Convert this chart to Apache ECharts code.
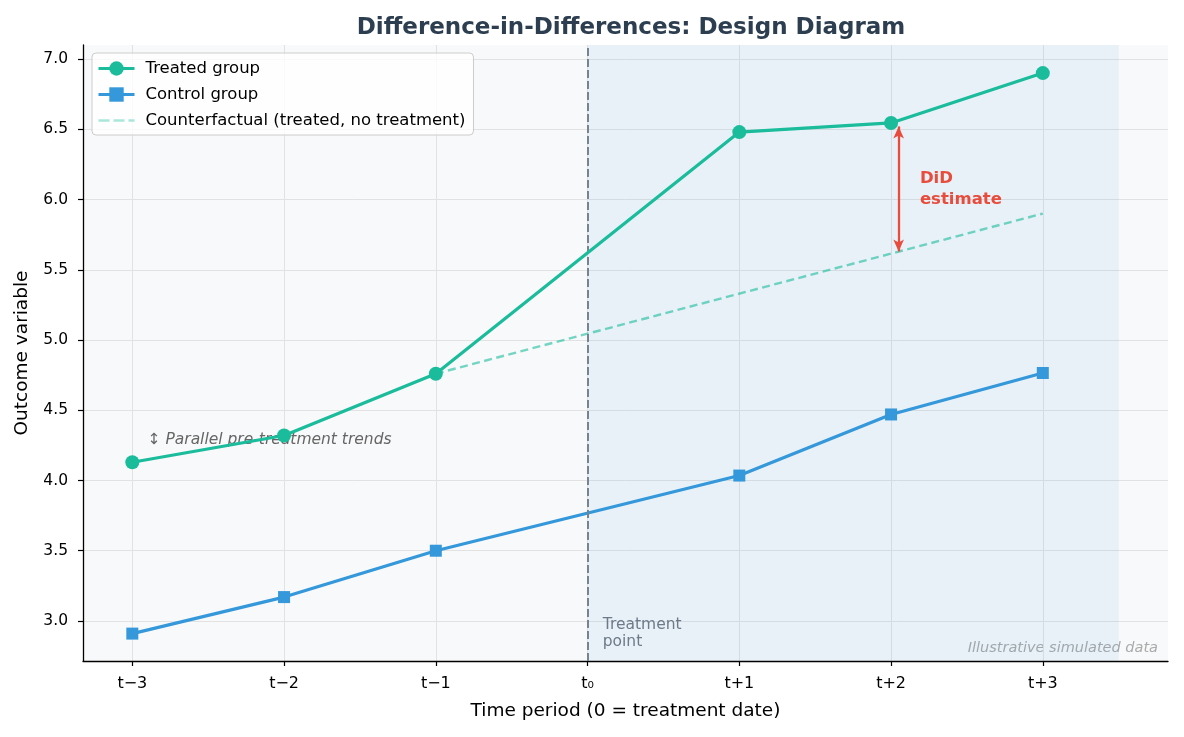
<!DOCTYPE html>
<html><head><meta charset="utf-8">
<script src="https://cdn.jsdelivr.net/npm/echarts@6/dist/echarts.min.js"></script>
<style>html,body{margin:0;padding:0;background:#fff}#c{width:1184px;height:737px}</style>
</head><body><div id="c"></div>
<script>
const periods = [-3, -2, -1, 1, 2, 3];
const tickValues = [-3, -2, -1, 0, 1, 2, 3];
const tickLabels = ['t\u22123', 't\u22122', 't\u22121', 't\u2080', 't+1', 't+2', 't+3'];
const yTicks = [3.0, 3.5, 4.0, 4.5, 5.0, 5.5, 6.0, 6.5, 7.0];
const treated = [4.13, 4.32, 4.76, 6.48, 6.545, 6.90];
const control = [2.91, 3.17, 3.50, 4.035, 4.47, 4.765];
const cfPeriods = [-1, 3];
const counterfactual = [4.76, 5.90];
const didX = 2.05, didLow = 5.63, didHigh = 6.52;
const postStart = 0, postEnd = 3.5;

const font = 'DejaVu Sans';
const chart = echarts.init(document.getElementById('c'), null, {renderer: 'canvas'});
const pair = (xs, ys) => xs.map((x, i) => [x, ys[i]]);
const dashIcon = 'path://M0,0h11v2.6h-11Z M15,0h11v2.6h-11Z M30,0h6v2.6h-6Z';

chart.setOption({
  animation: false,
  textStyle: {fontFamily: font},
  title: {
    text: 'Difference-in-Differences: Design Diagram',
    left: 626, top: 12, textAlign: 'center',
    textStyle: {fontFamily: font, fontSize: 23, fontWeight: 'bold', color: '#2c3e50'}
  },
  grid: {left: 83, right: 16, top: 45, bottom: 76, show: true, backgroundColor: '#f8f9fa', borderWidth: 0},
  legend: {
    left: 92, top: 53, orient: 'vertical', itemGap: 9, itemWidth: 36, itemHeight: 18,
    padding: [7, 8, 6, 5],
    backgroundColor: 'rgba(255,255,255,0.8)', borderColor: '#cccccc', borderWidth: 1, borderRadius: 4,
    lineStyle: {width: 3},
    textStyle: {fontFamily: font, fontSize: 16.5, color: '#000', padding: [0, 0, 0, 6]},
    data: [
      {name: 'Treated group'},
      {name: 'Control group'},
      {name: 'Counterfactual (treated, no treatment)', icon: dashIcon, itemStyle: {color: 'rgba(26,188,156,0.6)'}, lineStyle: {width: 0}}
    ]
  },
  xAxis: {
    type: 'value', min: -3.325, max: 3.825,
    name: 'Time period (0 = treatment date)', nameLocation: 'middle', nameGap: 41,
    nameTextStyle: {fontFamily: font, fontSize: 18.5, color: '#000'},
    axisLine: {show: true, onZero: false, lineStyle: {color: '#000', width: 1.3}},
    axisTick: {show: true, length: 5, customValues: tickValues, lineStyle: {color: '#000', width: 1.2}},
    axisLabel: {customValues: tickValues, fontFamily: font, fontSize: 16, color: '#000', margin: 15,
      formatter: v => tickLabels[tickValues.indexOf(Math.round(v))] || ''},
    splitLine: {show: true, lineStyle: {color: '#e2e2e2', width: 1}}
  },
  yAxis: {
    type: 'value', min: 2.715, max: 7.1,
    name: 'Outcome variable', nameLocation: 'middle', nameGap: 51,
    nameTextStyle: {fontFamily: font, fontSize: 18.5, color: '#000'},
    axisLine: {show: true, onZero: false, lineStyle: {color: '#000', width: 1.3}},
    axisTick: {show: true, length: 5, customValues: yTicks, lineStyle: {color: '#000', width: 1.2}},
    axisLabel: {customValues: yTicks, fontFamily: font, fontSize: 15.5, color: '#000', margin: 15,
      formatter: v => v.toFixed(1)},
    splitLine: {show: true, lineStyle: {color: '#e2e2e2', width: 1}}
  },
  series: [
    {
      name: 'Counterfactual (treated, no treatment)', type: 'line', data: pair(cfPeriods, counterfactual),
      showSymbol: false, symbol: 'none', z: 3,
      lineStyle: {color: '#1abc9c', width: 2.4, type: [8, 4.5], opacity: 0.6},
      itemStyle: {color: '#1abc9c', opacity: 0.6},
      markArea: {silent: true, itemStyle: {color: 'rgba(52,152,219,0.08)'},
        data: [[{xAxis: postStart}, {xAxis: postEnd}]]},
      markLine: {silent: true, symbol: 'none', label: {show: false},
        lineStyle: {color: '#77838f', width: 2, type: [8, 3]},
        data: [{xAxis: postStart}]},
      markPoint: {silent: true, symbol: 'circle', symbolSize: 0,
        data: [
          {coord: [-2.9, 4.285], label: {show: true, position: 'right', distance: 0, formatter: '\u2195 Parallel pre-treatment trends',
            fontFamily: font, fontSize: 15.5, fontStyle: 'italic', color: '#666666'}},
          {coord: [0.067, 2.755], label: {show: true, position: 'insideBottomLeft', align: 'left', verticalAlign: 'bottom', formatter: 'Treatment\npoint',
            fontFamily: font, fontSize: 15.5, color: '#6c7a89', lineHeight: 17}},
          {coord: [2.19, 6.075], label: {show: true, position: 'right', distance: 0, formatter: 'DiD\nestimate',
            fontFamily: font, fontSize: 16.5, fontWeight: 'bold', color: '#e74c3c', lineHeight: 21}}
        ]}
    },
    {
      name: 'Control group', type: 'line', data: pair(periods, control), z: 4,
      symbol: 'rect', symbolSize: 12,
      lineStyle: {color: '#3498db', width: 3.2}, itemStyle: {color: '#3498db'}
    },
    {
      name: 'Treated group', type: 'line', data: pair(periods, treated), z: 5,
      symbol: 'circle', symbolSize: 14,
      lineStyle: {color: '#1abc9c', width: 3.2}, itemStyle: {color: '#1abc9c'},
      markLine: {silent: true, symbol: ['arrow', 'arrow'], symbolSize: [8, 12], label: {show: false},
        lineStyle: {color: '#e74c3c', width: 2.3, type: 'solid'},
        data: [[{coord: [didX, didLow]}, {coord: [didX, didHigh]}]]}
    }
  ],
  graphic: [{
    type: 'text', right: 26, bottom: 81,
    style: {text: 'Illustrative simulated data', fontFamily: font, fontSize: 14.5, fontStyle: 'italic', fill: '#aaaaaa'}
  }]
});
</script></body></html>
